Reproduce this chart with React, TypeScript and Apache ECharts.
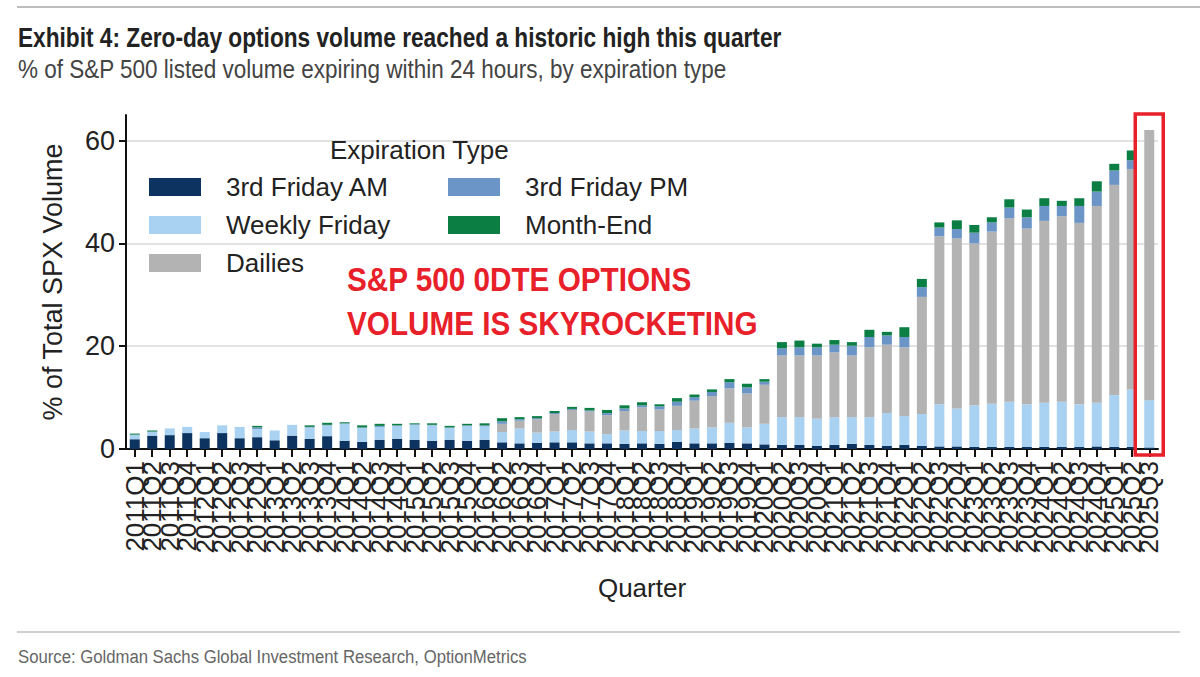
import React, { useEffect, useRef } from "react";
import * as echarts from "echarts";

const quarters: string[] = [
  "2011Q1", "2011Q2", "2011Q3", "2011Q4",
  "2012Q1", "2012Q2", "2012Q3", "2012Q4",
  "2013Q1", "2013Q2", "2013Q3", "2013Q4",
  "2014Q1", "2014Q2", "2014Q3", "2014Q4",
  "2015Q1", "2015Q2", "2015Q3", "2015Q4",
  "2016Q1", "2016Q2", "2016Q3", "2016Q4",
  "2017Q1", "2017Q2", "2017Q3", "2017Q4",
  "2018Q1", "2018Q2", "2018Q3", "2018Q4",
  "2019Q1", "2019Q2", "2019Q3", "2019Q4",
  "2020Q1", "2020Q2", "2020Q3", "2020Q4",
  "2021Q1", "2021Q2", "2021Q3", "2021Q4",
  "2022Q1", "2022Q2", "2022Q3", "2022Q4",
  "2023Q1", "2023Q2", "2023Q3", "2023Q4",
  "2024Q1", "2024Q2", "2024Q3", "2024Q4",
  "2025Q1", "2025Q2", "2025Q3",
];

const thirdFridayAM: number[] = [
  1.9, 2.6, 2.7, 3.1, 2.1, 3.1, 2.1, 2.3, 1.7, 2.6, 2.0, 2.5, 1.6, 1.4, 1.8, 2.0,
  1.8, 1.6, 1.8, 1.6, 1.8, 1.3, 1.1, 1.2, 1.3, 1.3, 1.1, 1.1, 1.0, 1.1, 1.0, 1.4,
  1.1, 1.1, 1.2, 1.1, 0.9, 0.8, 0.8, 0.6, 0.8, 1.0, 0.8, 0.6, 0.8, 0.6, 0.5, 0.5,
  0.4, 0.4, 0.4, 0.4, 0.4, 0.4, 0.4, 0.5, 0.4, 0.4, 0.3,
];

const weeklyFriday: number[] = [
  0.8, 0.7, 1.3, 1.2, 1.2, 1.5, 2.2, 1.6, 1.9, 2.1, 2.2, 2.1, 3.3, 2.7, 2.5, 2.5,
  2.9, 3.0, 2.3, 2.9, 2.6, 2.0, 2.9, 2.0, 2.1, 2.4, 2.3, 1.8, 2.6, 2.4, 2.5, 2.3,
  2.9, 3.1, 3.9, 3.1, 4.0, 5.4, 5.4, 5.3, 5.4, 5.2, 5.4, 6.4, 5.6, 6.2, 8.2, 7.4,
  8.1, 8.4, 8.8, 8.3, 8.6, 8.8, 8.3, 8.5, 10.1, 11.2, 9.2,
];

const dailies: number[] = [
  0, 0, 0, 0, 0, 0, 0, 0, 0, 0, 0, 0, 0, 0, 0, 0,
  0, 0, 0, 0, 0, 1.6, 1.5, 2.6, 3.4, 3.9, 3.9, 3.7, 3.8, 4.6, 4.2, 4.7,
  5.4, 6.1, 6.7, 6.6, 7.6, 12.0, 12.0, 12.3, 12.6, 12.0, 13.6, 13.3, 13.4, 22.8, 32.7, 33.1,
  31.5, 33.5, 35.7, 34.2, 35.4, 36.1, 35.3, 38.3, 40.9, 42.9, 52.6,
];

const thirdFridayPM: number[] = [
  0.1, 0.1, 0, 0, 0, 0, 0, 0.3, 0, 0, 0.1, 0.1, 0.1, 0.1, 0.2, 0.1,
  0.1, 0.1, 0.1, 0.1, 0.2, 0.5, 0.3, 0.2, 0.2, 0.2, 0.2, 0.4, 0.5, 0.4, 0.6, 0.8,
  0.7, 0.8, 1.2, 1.2, 0.6, 1.4, 1.6, 1.6, 1.5, 1.9, 2.0, 1.8, 2.0, 1.9, 1.7, 1.8,
  2.1, 1.8, 2.1, 2.2, 2.9, 2.0, 3.3, 2.8, 2.8, 1.7, 0,
];

const monthEnd: number[] = [
  0.2, 0.2, 0, 0, 0, 0, 0, 0.3, 0, 0, 0.3, 0.4, 0.2, 0.4, 0.4, 0.3,
  0.2, 0.3, 0.3, 0.3, 0.4, 0.6, 0.4, 0.4, 0.4, 0.4, 0.5, 0.6, 0.6, 0.6, 0.4, 0.7,
  0.5, 0.5, 0.6, 0.7, 0.5, 1.2, 1.3, 0.7, 0.9, 0.7, 1.4, 0.7, 1.9, 1.6, 1.0, 1.7,
  1.5, 1.0, 1.6, 1.5, 1.5, 1.0, 1.5, 2.0, 1.3, 1.9, 0,
];

const yTicks: number[] = [0, 20, 40, 60];

const TITLE = "Exhibit 4: Zero-day options volume reached a historic high this quarter";
const SUBTITLE = "% of S&P 500 listed volume expiring within 24 hours, by expiration type";
const SOURCE = "Source: Goldman Sachs Global Investment Research, OptionMetrics";
const LEGEND_TITLE = "Expiration Type";
const CALLOUT = "S&P 500 0DTE OPTIONS\nVOLUME IS SKYROCKETING";

const SANS = '"Liberation Sans", Arial, Helvetica, sans-serif';

const COLORS = {
  am: "#0d3461",
  weekly: "#a9d1f1",
  dailies: "#b3b3b3",
  pm: "#6b95c6",
  me: "#0b7e44",
};

export default function App() {
  const ref = useRef<HTMLDivElement>(null);

  useEffect(() => {
    if (!ref.current) return;
    const chart = echarts.init(ref.current, undefined, { renderer: "svg" });

    const mkSeries = (name: string, data: number[], color: string) => ({
      name,
      type: "bar",
      stack: "total",
      data,
      barWidth: 10,
      itemStyle: { color },
      emphasis: { disabled: true },
    });

    const legendCommon = {
      orient: "vertical",
      icon: "rect",
      itemWidth: 52,
      itemHeight: 18,
      itemGap: 12,
      padding: 0,
      selectedMode: false,
      textStyle: {
        fontFamily: SANS,
        fontSize: 26,
        color: "#222",
        padding: [0, 0, 0, 20],
      },
    };

    chart.setOption({
      animation: false,
      backgroundColor: "#ffffff",
      textStyle: { fontFamily: SANS },
      title: [
        {
          text: LEGEND_TITLE,
          left: 330,
          top: 137,
          padding: 0,
          textStyle: { fontFamily: SANS, fontSize: 26, fontWeight: "normal", color: "#222" },
        },
      ],
      legend: [
        {
          ...legendCommon,
          left: 149,
          top: 174,
          data: ["3rd Friday AM", "Weekly Friday", "Dailies"],
        },
        {
          ...legendCommon,
          left: 448,
          top: 174,
          data: ["3rd Friday PM", "Month-End"],
        },
      ],
      grid: { left: 126, right: 42, top: 115, bottom: 228, containLabel: false },
      xAxis: {
        type: "category",
        data: quarters,
        axisLine: { show: true, lineStyle: { color: "#111", width: 2 } },
        axisTick: { show: true, alignWithLabel: true, length: 8, lineStyle: { color: "#111", width: 2 } },
        axisLabel: {
          interval: 0,
          rotate: 90,
          fontSize: 26,
          color: "#222",
          margin: 12,
          fontFamily: SANS,
        },
        name: "Quarter",
        nameLocation: "middle",
        nameGap: 126,
        nameTextStyle: { fontSize: 26, color: "#222", fontFamily: SANS },
      },
      yAxis: {
        type: "value",
        min: 0,
        max: 65,
        interval: 20,
        axisLine: { show: true, lineStyle: { color: "#111", width: 2 } },
        axisTick: { show: true, length: 7, lineStyle: { color: "#111", width: 2 }, customValues: yTicks },
        axisLabel: { fontSize: 27, color: "#222", margin: 11, fontFamily: SANS, customValues: yTicks },
        splitLine: {
          show: true,
          lineStyle: { color: ["#e2e2e2", "#e2e2e2", "#e2e2e2", "#e2e2e2", "rgba(0,0,0,0)"], width: 2 },
        },
        name: "% of Total SPX Volume",
        nameLocation: "middle",
        nameGap: 60,
        nameTextStyle: { fontSize: 27, color: "#222", fontFamily: SANS },
      },
      graphic: [
        {
          id: "topRule",
          type: "line",
          shape: { x1: 17, y1: 7, x2: 1200, y2: 7 },
          style: { stroke: "#bdbdbd", lineWidth: 2 },
          silent: true,
        },
        {
          id: "bottomRule",
          type: "line",
          shape: { x1: 17, y1: 632, x2: 1180, y2: 632 },
          style: { stroke: "#cfcfcf", lineWidth: 2 },
          silent: true,
        },
        {
          id: "title",
          type: "text",
          x: 18,
          y: 24,
          scaleX: 0.84,
          silent: true,
          style: {
            text: TITLE,
            fontFamily: SANS,
            fontSize: 27,
            fontWeight: "bold",
            fill: "#222",
            verticalAlign: "top",
          },
        },
        {
          id: "subtitle",
          type: "text",
          x: 18,
          y: 57,
          scaleX: 0.9,
          silent: true,
          style: {
            text: SUBTITLE,
            fontFamily: SANS,
            fontSize: 25,
            fontWeight: "normal",
            fill: "#444",
            verticalAlign: "top",
          },
        },
        {
          id: "source",
          type: "text",
          x: 18,
          y: 647,
          scaleX: 0.88,
          silent: true,
          style: {
            text: SOURCE,
            fontFamily: SANS,
            fontSize: 19,
            fontWeight: "normal",
            fill: "#666",
            verticalAlign: "top",
          },
        },
        {
          id: "callout",
          type: "text",
          x: 347,
          y: 258,
          scaleX: 0.9,
          silent: true,
          z: 50,
          style: {
            text: CALLOUT,
            fontFamily: SANS,
            fontSize: 33,
            fontWeight: "bold",
            fill: "#e8202a",
            lineHeight: 44,
            verticalAlign: "top",
          },
        },
      ],
      series: [
        mkSeries("3rd Friday AM", thirdFridayAM, COLORS.am),
        mkSeries("Weekly Friday", weeklyFriday, COLORS.weekly),
        mkSeries("Dailies", dailies, COLORS.dailies),
        mkSeries("3rd Friday PM", thirdFridayPM, COLORS.pm),
        mkSeries("Month-End", monthEnd, COLORS.me),
      ],
    });

    // Red highlight box around the latest quarter, positioned via the chart's scales
    const lastCat = quarters[quarters.length - 1];
    const xPix = chart.convertToPixel({ xAxisIndex: 0 }, lastCat) as number;
    const yTop = chart.convertToPixel({ yAxisIndex: 0 }, 65) as number;
    const yBot = chart.convertToPixel({ yAxisIndex: 0 }, 0) as number;
    if (typeof xPix === "number" && typeof yTop === "number" && typeof yBot === "number") {
      chart.setOption({
        graphic: [
          {
            id: "redBox",
            type: "rect",
            shape: { x: xPix - 14, y: yTop - 1, width: 28, height: yBot - yTop + 7 },
            style: { fill: "none", stroke: "#e8202a", lineWidth: 3.5 },
            z: 100,
            silent: true,
          },
        ],
      });
    }

    return () => {
      chart.dispose();
    };
  }, []);

  return (
    <div
      ref={ref}
      style={{ position: "absolute", left: 0, top: 0, width: 1200, height: 677 }}
    />
  );
}
